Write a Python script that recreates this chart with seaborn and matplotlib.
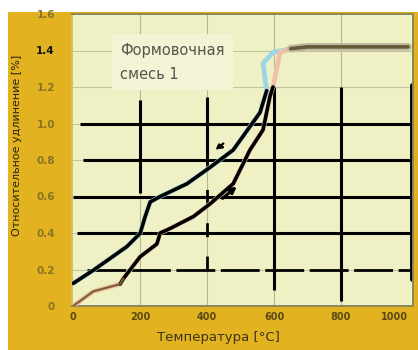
import numpy as np
import pandas as pd
import matplotlib
matplotlib.use("Agg")
import matplotlib.pyplot as plt
import seaborn as sns
from matplotlib.patches import Rectangle

# Dilatometer curve of moulding sand: heating and cooling branches
heat_T = [0, 30, 60, 100, 140, 150, 200, 250, 260, 290, 359, 409, 478, 528, 567, 588, 597, 618, 650]
heat_v = [0.0, 0.04, 0.08, 0.10, 0.12, 0.15, 0.27, 0.34, 0.40, 0.425, 0.49, 0.56, 0.67, 0.855, 0.965, 1.15, 1.20, 1.39, 1.41]
cool_T = [0, 61, 160, 200, 215, 230, 260, 340, 409, 478, 558, 578, 567, 597, 650]
cool_v = [0.124, 0.197, 0.325, 0.398, 0.49, 0.57, 0.60, 0.67, 0.76, 0.855, 1.06, 1.18, 1.33, 1.39, 1.41]
plateau_T = [650, 700, 800, 900, 1000]
plateau_v = [1.41, 1.42, 1.42, 1.42, 1.42]

x_ticks = [0, 200, 400, 600, 800, 1000]
y_ticks = [0, 0.2, 0.4, 0.6, 0.8, 1.0, 1.2, 1.4, 1.6]
y_tick_labels = ["0", "0.2", "0.4", "0.6", "0.8", "1.0", "1.2", "1.4", "1.6"]

heat = pd.DataFrame({"T": heat_T, "v": heat_v})
cool = pd.DataFrame({"T": cool_T, "v": cool_v})
plateau = pd.DataFrame({"T": plateau_T, "v": plateau_v})

sns.set_style("white")
plt.rcParams["font.family"] = ["DejaVu Sans"]

fig = plt.figure(figsize=(4.18, 3.5), dpi=100, facecolor="white")
# gold panel behind the chart
fig.patches.append(Rectangle((8 / 418, 0), 1 - 8 / 418, 1 - 12 / 350,
                             transform=fig.transFigure, facecolor="#e2b220",
                             edgecolor="none", zorder=-10))

ax = fig.add_axes([71.5 / 418, 44 / 350, (413 - 71.5) / 418, 292 / 350])
ax.set_zorder(5)
ax.set_facecolor("#eff0c4")
ax.set_xlim(-5, 1015)
ax.set_ylim(0, 1.6)

# thin background grid
for t in x_ticks[1:-1]:
    ax.axvline(t, color="#b8b890", lw=0.8, zorder=1)
for v in y_ticks[1:-1]:
    ax.axhline(v, color="#c4c4a0", lw=0.8, zorder=1)

# heavy drawn grid
hk = dict(color="black", lw=2.2, zorder=2, solid_capstyle="butt")
for v, x0 in [(0.4, 10), (0.6, 0), (0.8, 30), (1.0, 20)]:
    ax.plot([x0, 1010], [v, v], **hk)
ax.plot([40, 1010], [0.2, 0.2], color="black", lw=2.0, zorder=2, dashes=(14, 2))
ax.plot([200, 200], [0.62, 1.13], **hk)
ax.plot([400, 400], [0.77, 1.145], **hk)
ax.plot([400, 400], [0.2, 0.77], color="black", lw=2.0, zorder=2, dashes=(5, 7))
ax.plot([600, 600], [0.09, 1.2], **hk)
ax.plot([800, 800], [0.03, 1.2], **hk)
ax.plot([1011, 1011], [0.15, 1.21], color="black", lw=3.5, zorder=2)

# coloured trace under the black curves
sns.lineplot(data=cool, x="T", y="v", ax=ax, color="#9cd6e4", lw=3.4, sort=False,
             estimator=None, zorder=3)
sns.lineplot(data=heat, x="T", y="v", ax=ax, color="#f2c0a6", lw=3.4, sort=False,
             estimator=None, zorder=3)
sns.lineplot(data=plateau, x="T", y="v", ax=ax, color="#bdb99c", lw=5.5, estimator=None, zorder=3)
sns.lineplot(data=plateau, x="T", y="v", ax=ax, color="#685a38", lw=2.6, estimator=None, zorder=4)

# black curves
hb = heat[(heat["T"] >= 140) & (heat["v"] <= 1.2)]
sns.lineplot(data=hb, x="T", y="v", ax=ax, color="black", lw=2.6, sort=False,
             estimator=None, zorder=5)
hs = heat[heat["T"] <= 150]
sns.lineplot(data=hs, x="T", y="v", ax=ax, color="#7a6030", lw=1.6, sort=False,
             estimator=None, zorder=5)
cb = cool[cool["v"] <= 1.18]
sns.lineplot(data=cb, x="T", y="v", ax=ax, color="black", lw=2.6, sort=False,
             estimator=None, zorder=5)

# direction arrows
ax.annotate("", xy=(418, 0.845), xytext=(455, 0.90),
            arrowprops=dict(arrowstyle="-|>", color="black", lw=1.6, ls=(0, (1.5, 1.5)),
                            mutation_scale=9), zorder=6)
ax.annotate("", xy=(495, 0.665), xytext=(440, 0.58),
            arrowprops=dict(arrowstyle="-|>", color="black", lw=2.2, mutation_scale=9), zorder=6)

ax.text(140, 1.335, "Формовочная\nсмесь 1", fontsize=10.5, color="#55554c",
        linespacing=1.8, va="center", ha="left", zorder=6,
        bbox=dict(facecolor="#f3f3d6", edgecolor="none", pad=6))

ax.set_xticks(x_ticks)
ax.set_xticklabels([str(t) for t in x_ticks])
ax.set_yticks(y_ticks)
ax.set_yticklabels(y_tick_labels)
ax.tick_params(axis="y", length=0, pad=12, labelsize=7.5, labelcolor="#8a7420")
ax.tick_params(axis="x", length=0, pad=4, labelsize=7, labelcolor="#5a4a14")
for lab in ax.get_xticklabels() + ax.get_yticklabels():
    lab.set_fontweight("bold")
ax.get_yticklabels()[7].set_color("#111111")
ax.get_xticklabels()[-1].set_horizontalalignment("right")

ax.set_xlabel("Температура [°C]", fontsize=9.5, color="#3c3418")
ax.xaxis.set_label_coords(0.43, -0.085)
ax.set_ylabel("Относительное удлинение [%]", fontsize=8, color="#2a2410")
ax.yaxis.set_label_coords(-0.145, 0.55)

for s in ax.spines.values():
    s.set_color("#8a8658")
    s.set_linewidth(1.4)
    s.set_visible(True)
ax.spines["left"].set_color("#d8c060")

fig.savefig("out.png", dpi=100, facecolor=fig.get_facecolor())
